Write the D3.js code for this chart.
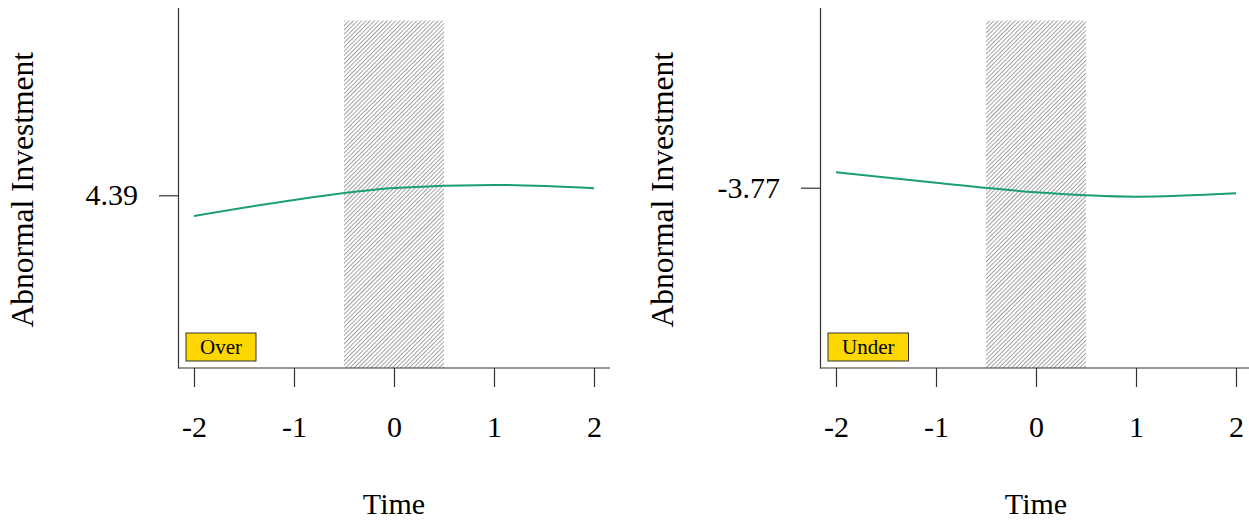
<!DOCTYPE html>
<html>
<head>
<meta charset="utf-8">
<script src="https://cdn.jsdelivr.net/npm/d3@7"></script>
<style>
  html, body { margin: 0; padding: 0; background: #fff; }
  svg { display: block; }
  text { font-family: "Liberation Serif", "Times New Roman", serif; fill: #000; }
</style>
</head>
<body>
<svg id="chart" width="1249" height="523"></svg>
<script>
// ---- data ----
const times = [-2, -1, 0, 1, 2];
const overValues = [4.287, 4.367, 4.427, 4.442, 4.425];
const underValues = [-3.693, -3.745, -3.793, -3.815, -3.798];
const overTick = [4.39];
const underTick = [-3.77];
const overYDomain = [3.5265, 5.329];
const underYDomain = [-4.6715, -2.869];
const xDomain = [-2.16, 2.16];
const treatWindow = [-0.5, 0.5];
const panelLabels = ["Over", "Under"];
const yTitle = "Abnormal Investment";
const xTitle = "Time";

const svg = d3.select("#chart");
const defs = svg.append("defs");
const pat = defs.append("pattern")
  .attr("id", "hatch")
  .attr("patternUnits", "userSpaceOnUse")
  .attr("width", 3.0).attr("height", 10)
  .attr("patternTransform", "rotate(45)");
pat.append("line")
  .attr("x1", 0.5).attr("y1", 0).attr("x2", 0.5).attr("y2", 10)
  .attr("stroke", "#999").attr("stroke-width", 0.9);

const panels = [
  { left: 178, values: overValues, tick: overTick, yDomain: overYDomain, label: panelLabels[0], titleX: 33 },
  { left: 820, values: underValues, tick: underTick, yDomain: underYDomain, label: panelLabels[1], titleX: 673 }
];

const plotTop = 7.5, plotBottom = 368, plotW = 432;

panels.forEach(p => {
  const x = d3.scaleLinear().domain(xDomain).range([p.left, p.left + plotW]);
  const y = d3.scaleLinear().domain(p.yDomain).range([plotBottom, plotTop]);
  const g = svg.append("g");

  // hatched window
  g.append("rect")
    .attr("x", x(treatWindow[0]))
    .attr("y", plotTop + 13)
    .attr("width", x(treatWindow[1]) - x(treatWindow[0]))
    .attr("height", plotBottom - plotTop - 13)
    .attr("fill", "url(#hatch)");

  // line
  const line = d3.line()
    .x((d, i) => x(times[i]))
    .y(d => y(d))
    .curve(d3.curveMonotoneX);
  g.append("path")
    .datum(p.values)
    .attr("d", line)
    .attr("fill", "none")
    .attr("stroke", "#1B9E77")
    .attr("stroke-width", 2);

  // x axis
  const xa = g.append("g")
    .attr("transform", `translate(0,${plotBottom})`)
    .call(d3.axisBottom(x).tickValues(times).tickFormat(d3.format("d"))
      .tickSize(19).tickSizeOuter(0).tickPadding(29));
  xa.selectAll("text").attr("font-size", 30).style("font-family", "'Liberation Serif', serif")
    .text(d => d < 0 ? "-" + Math.abs(d) : d);
  xa.selectAll("line,path").attr("stroke", "#333").attr("stroke-width", 1.2);
  xa.select(".domain").attr("d", `M${x(xDomain[0])},0H${x(xDomain[1])}`);

  // y axis
  const ya = g.append("g")
    .attr("transform", `translate(${p.left},0)`)
    .call(d3.axisLeft(y).tickValues(p.tick).tickFormat(d3.format(".2f"))
      .tickSize(19).tickSizeOuter(0).tickPadding(21));
  ya.selectAll("text").attr("font-size", 30).style("font-family", "'Liberation Serif', serif")
    .text(d => d < 0 ? "-" + Math.abs(d).toFixed(2) : d.toFixed(2));
  ya.selectAll("line,path").attr("stroke", "#333").attr("stroke-width", 1.2);

  // panel label box
  const boxRect = g.append("rect");
  const lbl = g.append("text")
    .attr("font-size", 21)
    .attr("text-anchor", "middle")
    .text(p.label);
  const tw = lbl.node().getComputedTextLength();
  const bw = tw + 28;
  const bx = p.left + 8;
  boxRect
    .attr("x", bx).attr("y", 333).attr("width", bw).attr("height", 28)
    .attr("fill", "#FFD700").attr("stroke", "#333").attr("stroke-width", 1);
  lbl.attr("x", bx + bw / 2).attr("y", 354);

  // titles
  g.append("text")
    .attr("transform", `translate(${p.titleX},${(plotBottom + plotTop) / 2 + 2}) rotate(-90)`)
    .attr("text-anchor", "middle")
    .attr("font-size", 31.5)
    .text(yTitle);
  g.append("text")
    .attr("x", x(0)).attr("y", 514)
    .attr("text-anchor", "middle")
    .attr("font-size", 30)
    .text(xTitle);
});
</script>
</body>
</html>
